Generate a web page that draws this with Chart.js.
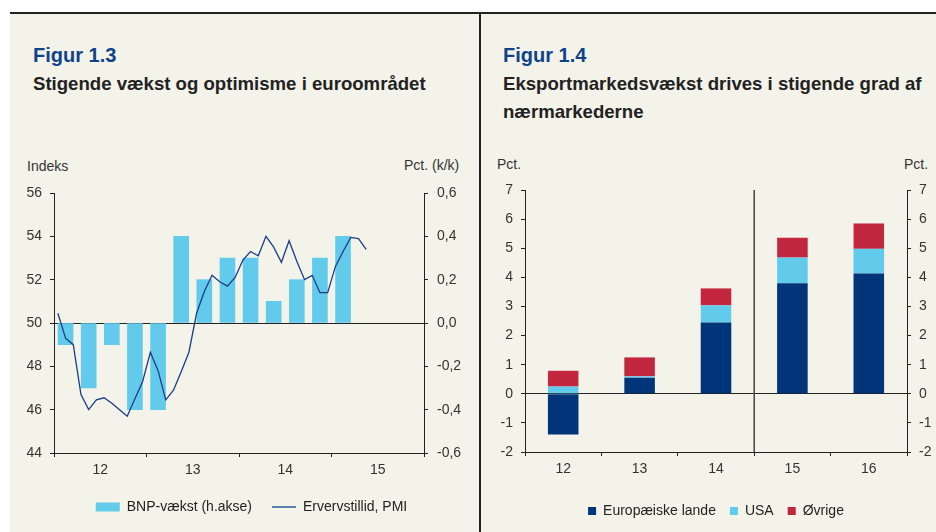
<!DOCTYPE html>
<html><head><meta charset="utf-8">
<script src="https://cdn.jsdelivr.net/npm/chart.js@4"></script>
<style>
html,body{margin:0;padding:0;background:#fff;width:936px;height:532px;overflow:hidden;font-family:"Liberation Sans",Arial,sans-serif;}
#panel{position:absolute;left:10px;top:12px;width:926px;height:520px;background:#F4F3E9;border-top:2px solid #222;box-sizing:border-box;}
#divider{position:absolute;left:479px;top:12px;width:2px;height:520px;background:#222;}
.fig{position:absolute;font-weight:bold;font-size:20px;color:#0F438A;line-height:22px;white-space:nowrap;}
.sub{position:absolute;font-weight:bold;font-size:18.6px;color:#222;line-height:28px;white-space:nowrap;}
.ax{position:absolute;font-size:14px;color:#333;line-height:16px;white-space:nowrap;}
canvas{position:absolute;}
</style></head>
<body>
<div id="panel"></div>
<div id="divider"></div>
<div class="fig" style="left:33px;top:44px">Figur 1.3</div>
<div class="sub" style="left:33px;top:70px">Stigende vækst og optimisme i euroområdet</div>
<div class="fig" style="left:503px;top:44px">Figur 1.4</div>
<div class="sub" style="left:503px;top:70px">Eksportmarkedsvækst drives i stigende grad af<br>nærmarkederne</div>
<div class="ax" style="left:27px;top:158px">Indeks</div>
<div class="ax" style="left:404px;top:157px">Pct. (k/k)</div>
<div class="ax" style="left:497px;top:156px">Pct.</div>
<div class="ax" style="left:904px;top:156px">Pct.</div>
<canvas id="c1" width="470" height="392" style="left:10px;top:140px"></canvas>
<canvas id="c2" width="456" height="392" style="left:480px;top:140px"></canvas>
<script>
// ---- Figur 1.3 data ----
const years = ['12', '13', '14', '15'];
// BNP-vækst, euroområdet, pct. k/k, kvartaler 2012K1-2015K1
const bnpGrowth = [-0.1, -0.3, -0.1, -0.4, -0.4, 0.4, 0.2, 0.3, 0.3, 0.1, 0.2, 0.3, 0.4];
// Erhvervstillid (PMI), måneder jan 2012 - maj 2015
const pmi = [50.45, 49.3, 49.0, 46.7, 46.0, 46.45, 46.55, 46.3, 46.0, 45.7, 46.5, 47.3,
             48.65, 47.8, 46.45, 46.9, 47.75, 48.65, 50.45, 51.45, 52.2, 51.9, 51.7, 52.1,
             52.9, 53.3, 53.1, 54.0, 53.5, 52.8, 53.8, 52.85, 52.0, 52.2, 51.4, 51.4,
             52.6, 53.3, 53.95, 53.9, 53.4];

// ---- Figur 1.4 data ----
const years2 = ['12', '13', '14', '15', '16'];
const europe = [-1.4, 0.55, 2.45, 3.8, 4.13];
const usa = [0.25, 0.05, 0.59, 0.88, 0.85];
const others = [0.54, 0.65, 0.58, 0.68, 0.87];
const forecastFrom = '15';

const FONT = '"Liberation Sans", Arial, sans-serif';
Chart.defaults.font.family = FONT;
Chart.defaults.font.size = 14;
Chart.defaults.color = '#333';

const AXIS = '#222';
const CLEAR = 'rgba(0,0,0,0)';
const comma = v => (Math.abs(v) < 1e-9 ? '0,0' : v.toFixed(1).replace('.', ','));

// Figur 1.3
const bnpPoints = bnpGrowth.map((v, i) => ({ x: i * 3 + 1.5, y: v }));
const pmiPoints = pmi.map((v, i) => ({ x: i + 0.5, y: v }));

new Chart(document.getElementById('c1'), {
  type: 'bar',
  data: {
    datasets: [
      { type: 'bar', label: 'BNP-vækst (h.akse)', data: bnpPoints, yAxisID: 'y1',
        backgroundColor: '#62CBEB', borderWidth: 0, barThickness: 15, order: 2 },
      { type: 'line', label: 'Ervervstillid, PMI', data: pmiPoints, yAxisID: 'y',
        borderColor: '#1C3C88', borderWidth: 1.3, pointRadius: 0, tension: 0, order: 1 }
    ]
  },
  options: {
    responsive: false, animation: false, devicePixelRatio: 1,
    layout: { padding: { left: 13, right: 0, top: 53, bottom: 8 } },
    plugins: {
      tooltip: { enabled: false },
      legend: {
        position: 'bottom',
        labels: {
          usePointStyle: true, pointStyleWidth: 24, boxHeight: 9, padding: 20,
          color: '#222', font: { size: 14 },
          generateLabels: chart => chart.data.datasets.map((ds, i) => ({
            text: ds.label, datasetIndex: i, hidden: false, fontColor: '#222',
            fillStyle: ds.type === 'line' ? CLEAR : ds.backgroundColor,
            strokeStyle: ds.type === 'line' ? '#5F7FB0' : ds.backgroundColor,
            lineWidth: ds.type === 'line' ? 2 : 0,
            pointStyle: ds.type === 'line' ? 'line' : 'rect'
          }))
        }
      }
    },
    scales: {
      x: {
        type: 'linear', min: 0, max: 48, offset: false,
        ticks: { stepSize: 6, autoSkip: false, maxRotation: 0, padding: 5,
          callback: v => (v % 12 === 6 ? years[(v - 6) / 12] : '') },
        grid: { offset: false, drawOnChartArea: false, tickLength: 4,
          tickColor: c => (c.tick && c.tick.value % 12 === 0 ? AXIS : CLEAR) },
        border: { display: true, color: AXIS, width: 1 },
        afterFit: s => { s.height = 27; }
      },
      y: {
        position: 'left', min: 44, max: 56,
        ticks: { stepSize: 2, padding: 8 },
        grid: { color: c => (c.tick && c.tick.value === 50 ? AXIS : CLEAR),
          tickColor: AXIS, tickLength: 4 },
        border: { display: true, color: AXIS, width: 1 },
        afterFit: s => { s.width = 31; }
      },
      y1: {
        position: 'right', min: -0.6, max: 0.6,
        ticks: { stepSize: 0.2, padding: 9, callback: v => comma(v) },
        grid: { drawOnChartArea: false, tickColor: AXIS, tickLength: 4 },
        border: { display: true, color: AXIS, width: 1 },
        afterFit: s => { s.width = 56; }
      }
    }
  }
});

// Figur 1.4
const separatorPlugin = {
  id: 'separator',
  beforeDatasetsDraw(chart) {
    const xs = chart.scales.x, idx = years2.indexOf(forecastFrom);
    const px = (xs.getPixelForValue(idx - 1) + xs.getPixelForValue(idx)) / 2;
    const ctx = chart.ctx, a = chart.chartArea;
    ctx.save();
    ctx.strokeStyle = '#444'; ctx.lineWidth = 1.5;
    ctx.beginPath(); ctx.moveTo(px, a.top); ctx.lineTo(px, a.bottom); ctx.stroke();
    ctx.restore();
  }
};

const barDs = (label, data, color) => ({ label, data, backgroundColor: color, borderWidth: 0,
  barPercentage: 0.4, categoryPercentage: 1, stack: 's' });

new Chart(document.getElementById('c2'), {
  type: 'bar',
  data: {
    labels: years2,
    datasets: [
      barDs('Europæiske lande', europe, '#00357A'),
      barDs('USA', usa, '#62CBEB'),
      barDs('Øvrige', others, '#C3263F')
    ]
  },
  plugins: [separatorPlugin],
  options: {
    responsive: false, animation: false, devicePixelRatio: 1,
    layout: { padding: { left: 16, right: 0, top: 50, bottom: 4 } },
    plugins: {
      tooltip: { enabled: false },
      legend: { position: 'bottom',
        labels: { boxWidth: 8, boxHeight: 8, padding: 14, color: '#222', font: { size: 14 } } }
    },
    scales: {
      x: { stacked: true,
        ticks: { padding: 5, maxRotation: 0 },
        grid: { offset: true, drawOnChartArea: false, tickLength: 4, tickColor: AXIS },
        border: { color: AXIS, width: 1 },
        afterFit: s => { s.height = 38; }
      },
      y: { stacked: true, position: 'left', min: -2, max: 7,
        ticks: { stepSize: 1, padding: 8 },
        grid: { color: c => (c.tick && c.tick.value === 0 ? AXIS : CLEAR),
          tickColor: AXIS, tickLength: 4 },
        border: { color: AXIS, width: 1 },
        afterFit: s => { s.width = 29; }
      },
      y1: { position: 'right', min: -2, max: 7,
        ticks: { stepSize: 1, padding: 8 },
        grid: { drawOnChartArea: false, tickColor: AXIS, tickLength: 4 },
        border: { color: AXIS, width: 1 },
        afterFit: s => { s.width = 29; }
      }
    }
  }
});
</script>
</body></html>
